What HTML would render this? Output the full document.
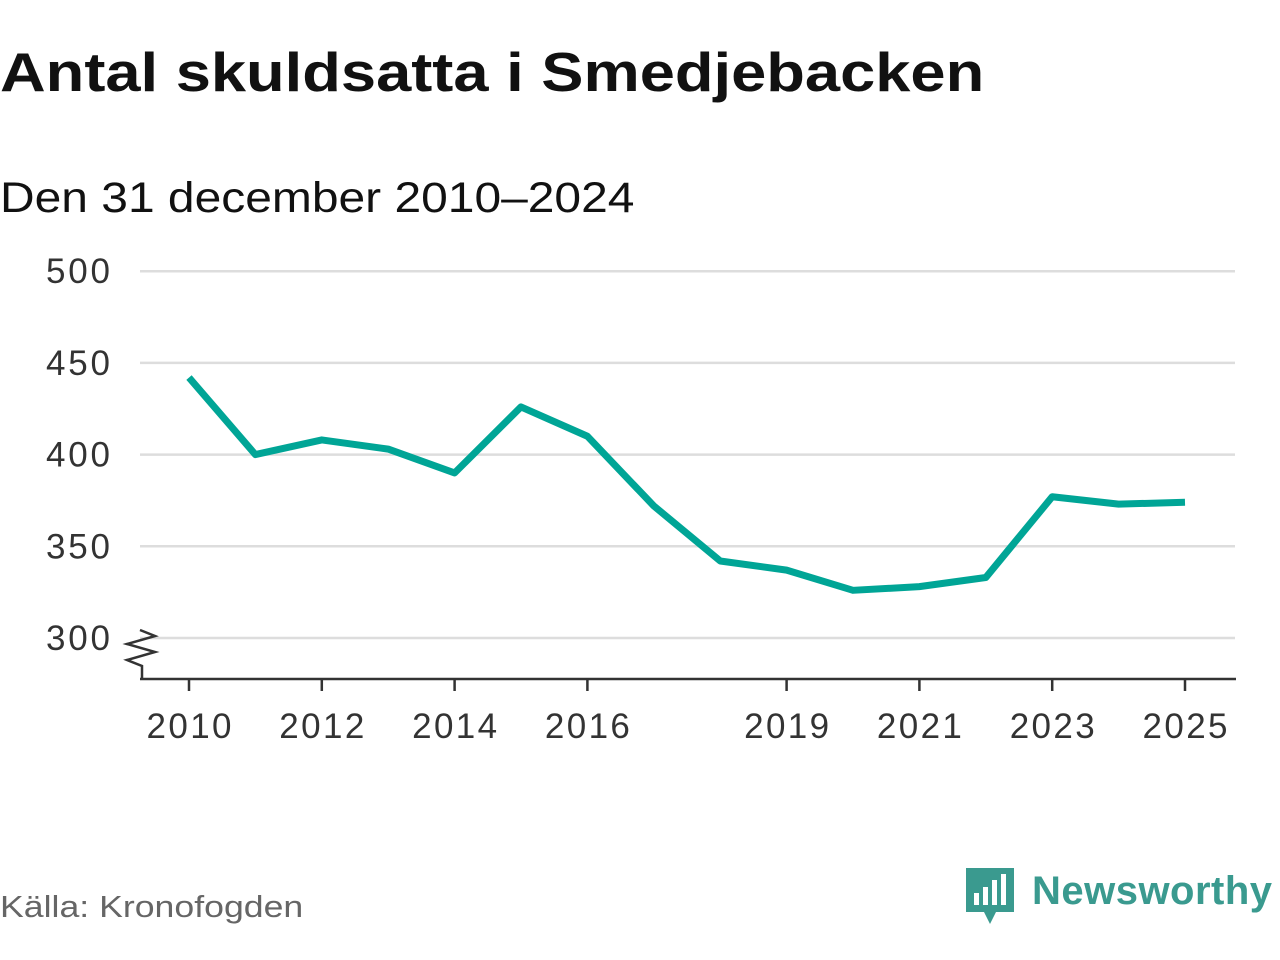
<!DOCTYPE html>
<html><head><meta charset="utf-8"><style>
body{margin:0;width:1280px;height:960px;background:#fff;font-family:"Liberation Sans",sans-serif;overflow:hidden;position:relative}
.t{position:absolute;left:0;top:40px;font-size:55px;font-weight:bold;color:#111;transform-origin:0 0;transform:scaleX(1.15);white-space:nowrap}
.s{position:absolute;left:0;top:174px;font-size:43px;color:#111;transform-origin:0 0;transform:scaleX(1.115);white-space:nowrap}
.src{position:absolute;left:0;top:889px;font-size:31px;color:#666;transform-origin:0 0;transform:scaleX(1.15);white-space:nowrap}
</style></head><body>
<div class="t">Antal skuldsatta i Smedjebacken</div>
<div class="s">Den 31 december 2010–2024</div>
<div class="src">Källa: Kronofogden</div>
<svg width="1280" height="960" style="position:absolute;left:0;top:0">
<g id="grid"></g><g id="axis"></g><path id="line" fill="none" stroke="#00a596" stroke-width="7" stroke-linejoin="round"/>
<g>
<path d="M966,868 h48 v44 h-18 l-6,12 l-6,-12 h-18 z" fill="#3a9a8f"/>
<rect x="974" y="893" width="5" height="12" fill="#fff"/><rect x="983" y="887" width="5" height="18" fill="#fff"/><rect x="992" y="880" width="5" height="25" fill="#fff"/><rect x="1001" y="874" width="5" height="31" fill="#fff"/>
<text x="1032" y="904" font-size="40" font-weight="bold" fill="#3a9a8f" font-family="Liberation Sans, sans-serif" textLength="240">Newsworthy</text>
</g>
</svg>
<script>
const years=[2010,2011,2012,2013,2014,2015,2016,2017,2018,2019,2020,2021,2022,2023,2024,2025];
const values=[442,400,408,403,390,426,410,372,342,337,326,328,333,377,373,374];
const yTicks=[300,350,400,450,500];
const xTicks=[2010,2012,2014,2016,2019,2021,2023,2025];
const X=v=>189+(v-2010)*66.4, Y=v=>638-(v-300)*1.834;
const ns="http://www.w3.org/2000/svg";
const g=document.getElementById('grid'),a=document.getElementById('axis');
function mk(tag,at,p){const e=document.createElementNS(ns,tag);for(const k in at)e.setAttribute(k,at[k]);p.appendChild(e);return e;}
yTicks.forEach(v=>{const l=mk('line',{x1:140,x2:1235,y1:Y(v),y2:Y(v),stroke:'#ddd','stroke-width':2.5},g);


const t=mk('text',{x:110,y:Y(v)+12,'text-anchor':'end','font-size':35,fill:'#333',textLength:64},g);t.textContent=v;

});
const ax=mk('line',{x1:140,x2:1236,y1:679,y2:679,stroke:'#333','stroke-width':2.5},a);


const br=mk('path',{d:'M140,630 l15,6 l-28,8 l28,8 l-28,8 l15,6 v12',fill:'none',stroke:'#333','stroke-width':2.5},a);


xTicks.forEach(v=>{mk('line',{x1:X(v),x2:X(v),y1:679,y2:691,stroke:'#333','stroke-width':2.5},a);
const t=mk('text',{x:X(v),y:738,'text-anchor':'middle','font-size':35,fill:'#333',textLength:85},a);t.textContent=v;

});
document.getElementById('line').setAttribute('d',years.map((y,i)=>(i?'L':'M')+X(y)+','+Y(values[i])).join(' '));
</script>
</body></html>
